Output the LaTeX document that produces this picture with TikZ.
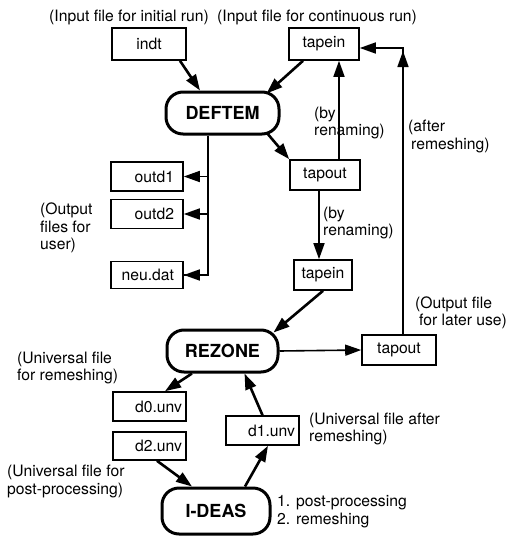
\documentclass[tikz,border=0pt]{standalone}
\usepackage{fontspec}
\setmainfont{TeX Gyre Heros}
\usetikzlibrary{arrows.meta,calc}
\begin{document}
\begin{tikzpicture}[x=1pt,y=-1pt,
  txt/.style={font=\fontsize{15.7}{17.5}\selectfont},
  filebox/.style={txt,draw,line width=1.6pt,inner sep=0pt,minimum height=29pt},
  proc/.style={draw,line width=3pt,rounded corners=17pt,inner sep=0pt,
    font=\fontsize{18}{20}\bfseries\selectfont},
  lbl/.style={txt,inner sep=0pt,align=left,anchor=west},
  thk/.style={line width=2.6pt,-{Triangle[length=16pt,width=11pt]}},
  thnarr/.style={line width=1.6pt,-{Triangle[length=16pt,width=11pt]}},
  thn/.style={line width=1.6pt}]
\useasboundingbox (0,0) rectangle (510,536);

% nodes
\node[filebox,minimum width=74pt,minimum height=32pt] (indt) at (149,44) {indt};
\node[filebox,minimum width=70pt,minimum height=32pt] (tapeinA) at (324,44) {tapein};
\node[proc,minimum width=113pt,minimum height=42pt] (deftem) at (222.5,113) {DEFTEM};
\node[filebox,minimum width=70pt,minimum height=30pt] (tapoutA) at (325,175) {tapout};
\node[filebox,minimum width=72pt,inner xsep=9pt,text width=54pt,align=right] (outd1) at (147,176.5) {outd1};
\node[filebox,minimum width=72pt,inner xsep=9pt,text width=54pt,align=right] (outd2) at (147,214) {outd2};
\node[filebox,minimum width=72pt,minimum height=27pt,inner xsep=9pt,text width=54pt,align=right] (neu) at (147,275) {neu.dat};
\node[filebox,minimum width=58pt,minimum height=30pt] (tapeinB) at (323,275) {tapein};
\node[proc,minimum width=111pt,minimum height=42pt] (rezone) at (222.5,351) {REZONE};
\node[filebox,minimum width=74pt,minimum height=30pt] (tapoutB) at (399,350) {tapout};
\node[filebox,inner xsep=4pt,text width=65pt,align=right] (d0) at (149.5,406.5) {d0.unv};
\node[filebox,minimum height=28pt,inner xsep=4pt,text width=65pt,align=right] (d2) at (149.5,446) {d2.unv};
\node[filebox,inner xsep=4pt,text width=65pt,align=right] (d1) at (262.5,430.5) {d1.unv};
\node[proc,minimum width=108pt,minimum height=46pt] (ideas) at (216,511) {I-DEAS};

% labels
\node[lbl] (l1) at (49,17) {(Input file for initial run)};
\node[lbl] (l2) at (217,17) {(Input file for continuous run)};
\node[lbl] (l3) at (314,123) {(by\\renaming)};
\node[lbl] (l4) at (408,136.5) {(after\\\hspace*{3pt}remeshing)};
\node[lbl] (l5) at (40,228) {(Output\\files for\\user)};
\node[lbl] (l6) at (323,223) {(by\\renaming)};
\node[lbl] (l7) at (415,313) {(Output file\\\hspace*{4pt}for later use)};
\node[lbl] (l8) at (17,368) {(Universal file\\for remeshing)};
\node[lbl] (l9) at (309,429) {(Universal file after\\remeshing)};
\node[lbl] (l10) at (7,481.5) {(Universal file for\\post-processing)};
\node[lbl] (l11) at (277,511.5) {1. post-processing\\2. remeshing};

% connectors
\draw[thk] ([xshift=31pt]indt.south) -- ([xshift=-22.5pt]deftem.north);
\draw[thk] ([xshift=-21pt]tapeinA.south) -- ([xshift=44pt,yshift=-3pt]deftem.north);
\draw[thk] ([xshift=44pt,yshift=3pt]deftem.south) -- (tapoutA.north west);
\draw[thnarr] ([xshift=14pt]tapoutA.north) -- ([xshift=15pt]tapeinA.south);
\draw[thnarr] ([xshift=-6pt]tapoutA.south) -- ([xshift=-4pt]tapeinB.north);

\coordinate (bus) at ([xshift=-14.5pt]deftem.south);
\draw[thn] (bus) |- (neu.east);
\draw[thnarr] (bus |- outd1.east) -- (outd1.east);
\draw[thnarr] (bus |- outd2.east) -- (outd2.east);
\draw[thnarr] (bus |- neu.east) -- (neu.east);

\draw[thk] (tapeinB.south) -- ([xshift=-6pt,yshift=-4pt]rezone.north east);
\draw[thnarr] (rezone.east) -- (tapoutB.west);

\coordinate (rup) at ([xshift=4pt]tapoutB.north);
\coordinate (tin) at ([yshift=-4pt]tapeinA.east);
\coordinate (corner) at (rup |- tin);
\draw[thnarr] (rup) |- (tin);
\draw[thnarr] ([yshift=-30pt]corner) -- ([yshift=-3pt]corner);

\draw[thk] ([xshift=-30.5pt]rezone.south) -- ([xshift=15.5pt]d0.north);
\draw[thk] ([xshift=7.5pt]d2.south) -- ([xshift=-24pt]ideas.north);
\draw[thk] ([xshift=29pt]ideas.north) -- ([xshift=5.5pt]d1.south);
\draw[thk] (d1.north) -- ([xshift=22pt]rezone.south);
\end{tikzpicture}
\end{document}
